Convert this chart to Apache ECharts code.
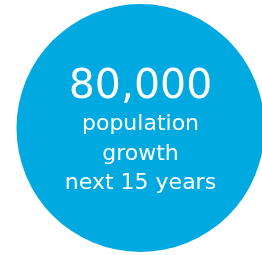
<!DOCTYPE html>
<html><head><meta charset="utf-8">
<script src="https://cdn.jsdelivr.net/npm/echarts@6/dist/echarts.min.js"></script>
<style>html,body{margin:0;padding:0;background:#fff}#c{width:262px;height:255px}</style>
</head><body><div id="c"></div>
<script>
var headline = ['80,000'];
var values = [80000];
var captionLines = ['population', 'growth', 'next 15 years'];

var chart = echarts.init(document.getElementById('c'), null, {renderer: 'canvas'});
chart.setOption({
  animation: false,
  series: [{
    type: 'pie',
    center: [140.5, 128],
    radius: [0, 124],
    silent: true,
    itemStyle: {color: '#00A9E0'},
    labelLine: {show: false},
    label: {
      show: true,
      position: 'center',
      offset: [0, 4],
      formatter: function () {
        return '{big|' + headline[0] + '}\n' + captionLines.map(function (l) { return '{small|' + l + '}'; }).join('\n');
      },
      rich: {
        big: {fontFamily: 'DejaVu Sans', fontSize: 41, color: '#fff', lineHeight: 44},
        small: {fontFamily: 'DejaVu Sans', fontSize: 22, color: '#fff', lineHeight: 29.5}
      }
    },
    data: values.map(function (v) { return {value: v, name: headline[0]}; })
  }]
});
</script></body></html>
